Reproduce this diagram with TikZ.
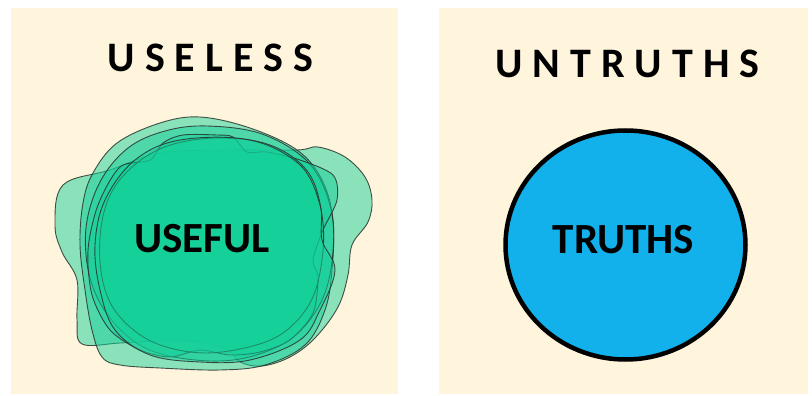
\documentclass[tikz,border=0pt]{standalone}
\usepackage{fontspec}
\setmainfont{Carlito}
\definecolor{cream}{RGB}{255,245,220}
\definecolor{blobgreen}{RGB}{20,208,154}
\definecolor{truthblue}{RGB}{18,177,236}
\definecolor{blobline}{RGB}{40,50,45}
\tikzset{
  panel/.style={fill=cream, draw=none},
  blob/.style={fill=blobgreen, fill opacity=0.5, draw=blobline, draw opacity=0.85, line width=0.9pt},
  title/.style={font=\bfseries\fontsize{42}{42}\selectfont, inner sep=0pt, text=black},
  label/.style={font=\bfseries\fontsize{43}{43}\selectfont, inner sep=0pt, text=black},
}
\begin{document}
\begin{tikzpicture}[x=1pt, y=-1pt]
\useasboundingbox (0,0) rectangle (812,396);
\fill[white] (0,0) rectangle (812,396);
\path[panel] (11,8) rectangle (398,394);
\path[panel] (439,8) rectangle (808,394);

% blobs
\draw[blob] plot[smooth cycle, tension=0.6] coordinates {(63,185) (110,170) (160,153) (230,150) (297,150) (318,147) (345,157) (365,177) (372,200) (368,222) (352,245) (348,275) (338,307) (315,338) (290,357) (262,366) (240,362) (228,350) (200,342) (160,341) (120,343) (82,344) (77,320) (77,280) (62,252) (55,225)};
\draw[blob] plot[smooth cycle, tension=0.6] coordinates {(200,117) (250,128) (297,150) (322,180) (333,220) (332,270) (325,310) (305,345) (265,365) (220,370) (160,368) (120,365) (102,357) (92,330) (85,290) (80,245) (83,203) (93,173) (117,143) (160,123)};
\draw[blob] plot[smooth cycle, tension=0.6] coordinates {(207,126) (262,134) (308,162) (330,205) (333,252) (322,300) (292,338) (245,358) (195,360) (145,348) (110,318) (90,278) (86,228) (100,182) (128,148) (165,131)};
\draw[blob] plot[smooth cycle, tension=0.5] coordinates {(120,167) (150,160) (163,143) (183,135) (217,135) (233,137) (247,152) (267,152) (300,160) (333,175) (337,200) (323,230) (313,260) (318,277) (313,313) (290,340) (260,352) (230,355) (200,350) (170,357) (140,350) (110,330) (92,295) (88,250) (98,205)};
\draw[blob] plot[smooth cycle, tension=0.6] coordinates {(215,138) (270,145) (308,172) (322,215) (322,260) (310,303) (280,335) (235,350) (190,352) (145,338) (112,306) (100,262) (104,212) (123,176) (162,148)};
\draw[blob] plot[smooth cycle, tension=0.6] coordinates {(180,140) (250,140) (300,165) (320,205) (322,240) (335,270) (320,310) (300,340) (250,360) (200,362) (150,355) (115,330) (100,290) (95,245) (105,200) (135,160)};

% truths circle
\draw[line width=4.5pt, fill=truthblue] (625.5,245) ellipse [x radius=120, y radius=114.5];

% texts
\node[title] (useless) at (210.5,58) {U\kern10pt S\kern10pt E\kern10pt L\kern10pt E\kern10pt S\kern10pt S};
\node[title] (untruths) at (627.5,64) {U\kern10pt N\kern10pt T\kern10pt R\kern10pt U\kern10pt T\kern10pt H\kern10pt S};
\node[label] (useful) at (202,239) {USEFUL};
\node[label] (truths) at (623.5,240) {TRUTHS};
\end{tikzpicture}
\end{document}
